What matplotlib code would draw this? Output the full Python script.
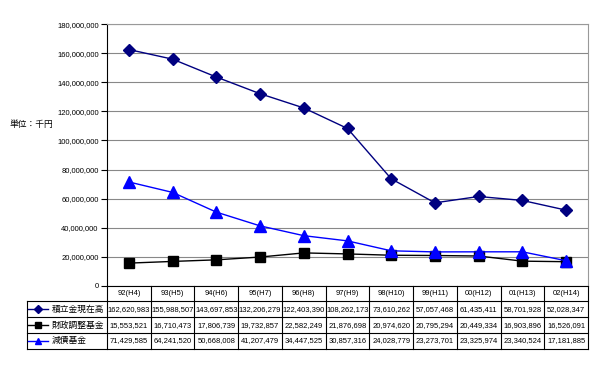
import numpy as np
import matplotlib.pyplot as plt
import matplotlib.transforms as mtransforms
from matplotlib.lines import Line2D
from matplotlib import font_manager

installed = {f.name for f in font_manager.fontManager.ttflist}
num_font = 'Liberation Sans Narrow' if 'Liberation Sans Narrow' in installed else 'Liberation Sans'
num_size = 6.5 if num_font == 'Liberation Sans Narrow' else 5.5
plt.rcParams['font.family'] = ['Liberation Sans', 'Noto Sans CJK JP', 'DejaVu Sans']

years = ['92(H4)', '93(H5)', '94(H6)', '95(H7)', '96(H8)', '97(H9)',
         '98(H10)', '99(H11)', '00(H12)', '01(H13)', '02(H14)']
names = ['積立金現在高', '財政調整基金', '減債基金']
tsumitate = [162620983, 155988507, 143697853, 132206279, 122403390, 108262173,
             73610262, 57057468, 61435411, 58701928, 52028347]
zaisei = [15553521, 16710473, 17806739, 19732857, 22582249, 21876698,
          20974620, 20795294, 20449334, 16903896, 16526091]
gensai = [71429585, 64241520, 50668008, 41207479, 34447525, 30857316,
          24028779, 23273701, 23325974, 23340524, 17181885]
series = [tsumitate, zaisei, gensai]
styles = [dict(color='#000080', marker='D', ms=6.5),
          dict(color='#000000', marker='s', ms=7),
          dict(color='#0000ff', marker='^', ms=8)]

fig = plt.figure(figsize=(6, 3.65), dpi=100)
W, H = 600, 365
L, R, T, B = 107, 588, 24.3, 285.7
ax = fig.add_axes([L / W, 1 - B / H, (R - L) / W, (B - T) / H])

x = np.arange(len(years))
for vals, st in zip(series, styles):
    ax.plot(x, vals, lw=1, color=st['color'], marker=st['marker'],
            ms=st['ms'], mfc=st['color'], mec=st['color'], clip_on=False, zorder=3)

ax.set_xlim(-0.5, len(years) - 0.5)
ax.set_ylim(0, 180000000)
ax.set_yticks(np.arange(0, 180000001, 20000000))
ax.set_yticklabels([f'{v:,}' for v in range(0, 180000001, 20000000)],
                   fontsize=num_size, family=num_font)
ax.tick_params(axis='y', length=4, width=0.8, direction='out', pad=2)
ax.set_xticks([])
ax.grid(axis='y', color='#888888', lw=0.8)
ax.set_axisbelow(True)
for s in ['top', 'right']:
    ax.spines[s].set_color('#999999')
    ax.spines[s].set_linewidth(0.8)
ax.spines['left'].set_linewidth(0.8)
ax.spines['bottom'].set_linewidth(0.8)

fig.text(10 / W, 1 - 125 / H, '単位：千円', fontsize=6.3, va='center', ha='left')

# data table under the axis
trans = mtransforms.blended_transform_factory(ax.transData, ax.transAxes)
rh = 15.75 / (B - T)
xl = (27 - L) / (R - L)
n = len(years)

line_kw = dict(color='black', lw=0.8, clip_on=False)
for k in range(n + 1):
    ax.plot([k - 0.5, k - 0.5], [0, -4 * rh], transform=trans, **line_kw)
for r in range(1, 5):
    ax.plot([xl, 1], [-r * rh, -r * rh], transform=ax.transAxes, **line_kw)
ax.plot([xl, xl], [-rh, -4 * rh], transform=ax.transAxes, **line_kw)

for i, yr in enumerate(years):
    ax.text(i, -0.5 * rh, yr, transform=trans, ha='center', va='center',
            fontsize=num_size, family=num_font)
for r, (vals, st, nm) in enumerate(zip(series, styles, names)):
    yc = -(r + 1.5) * rh
    for i, v in enumerate(vals):
        ax.text(i, yc, f'{v:,}', transform=trans, ha='center', va='center',
                fontsize=num_size, family=num_font)
    x0 = (28 - L) / (R - L)
    x1 = (48 - L) / (R - L)
    ax.add_line(Line2D([x0, x1], [yc, yc], transform=ax.transAxes, color=st['color'],
                       lw=1, clip_on=False))
    ax.add_line(Line2D([(x0 + x1) / 2], [yc], transform=ax.transAxes, color=st['color'],
                       marker=st['marker'], ms=st['ms'] * 0.6, clip_on=False))
    ax.text((52 - L) / (R - L), yc, nm, transform=ax.transAxes, ha='left', va='center',
            fontsize=6.3)

fig.savefig('out.png', dpi=100)
